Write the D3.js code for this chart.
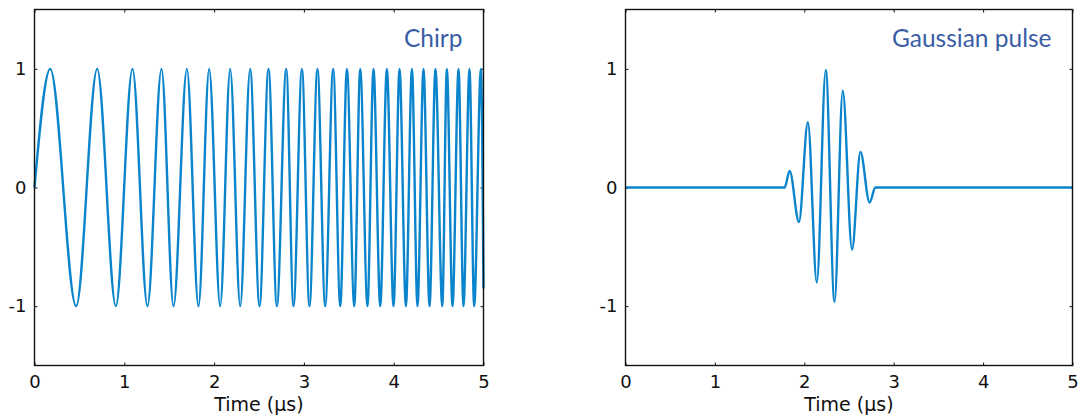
<!DOCTYPE html>
<html>
<head>
<meta charset="utf-8">
<script src="https://cdn.jsdelivr.net/npm/d3@7"></script>
<style>
  body { margin: 0; background: #fff; }
  svg { display: block; }
</style>
</head>
<body>
<div id="chart"></div>
<script>
// chirp: time (us) of start, then alternating peaks / troughs, then end
var chirpTimes = [0, 0.175, 0.464, 0.698, 0.906, 1.091, 1.258, 1.414, 1.548, 1.697, 1.826,
  1.945, 2.068, 2.179, 2.291, 2.401, 2.506, 2.606, 2.699, 2.803, 2.884, 2.978, 3.062,
  3.151, 3.237, 3.326, 3.405, 3.479, 3.561, 3.627, 3.708, 3.775, 3.850, 3.924, 3.998,
  4.065, 4.136, 4.203, 4.265, 4.332, 4.399, 4.465, 4.541, 4.592, 4.655, 4.722, 4.777,
  4.844, 4.896, 4.971, 5.0];
var chirpValues = [0, 1, -1, 1, -1, 1, -1, 1, -1, 1, -1,
  1, -1, 1, -1, 1, -1, 1, -1, 1, -1, 1, -1,
  1, -1, 1, -1, 1, -1, 1, -1, 1, -1, 1, -1,
  1, -1, 1, -1, 1, -1, 1, -1, 1, -1, 1, -1,
  1, -1, 1, -0.85];

// gaussian pulse
var gaussTimes = [0, 1.78, 1.836, 1.94, 2.04, 2.14, 2.24, 2.338, 2.43, 2.534, 2.628, 2.73, 2.795, 5];
var gaussValues = [0, 0, 0.14, -0.29, 0.55, -0.80, 0.99, -0.965, 0.815, -0.523, 0.30, -0.127, 0, 0];

var xTicks = [0, 1, 2, 3, 4, 5];
var yTicks = [-1, 0, 1];
var xLabel = "Time (\u03bcs)";

var W = 1080, H = 417;
var lineColor = "#0a84cc";
var titleColor = "#3a5da6";

var svg = d3.select("#chart").append("svg")
  .attr("width", W)
  .attr("height", H);

// plain hyphen for negatives, like the original
var fmt = function(d) { return String(d); };

function drawPanel(left, right, times, values, title) {
  var top = 9.5, bottom = 365.5;

  var x = d3.scaleLinear().domain([0, 5]).range([left, right]);
  var y = d3.scaleLinear().domain([-1.5, 1.5]).range([bottom, top]);

  var g = svg.append("g");

  // ticks inside, mirrored
  g.append("g")
    .attr("transform", "translate(0," + bottom + ")")
    .call(d3.axisBottom(x).tickValues(xTicks).tickSize(-3).tickPadding(10).tickFormat(fmt))
    .call(styleAxis);
  g.append("g")
    .attr("transform", "translate(0," + top + ")")
    .call(d3.axisTop(x).tickValues(xTicks).tickSize(-3).tickFormat(""))
    .call(styleAxis);
  g.append("g")
    .attr("transform", "translate(" + left + ",0)")
    .call(d3.axisLeft(y).tickValues(yTicks).tickSize(-3).tickPadding(8).tickFormat(fmt))
    .call(styleAxis);
  g.append("g")
    .attr("transform", "translate(" + right + ",0)")
    .call(d3.axisRight(y).tickValues(yTicks).tickSize(-3).tickFormat(""))
    .call(styleAxis);

  g.selectAll(".domain").remove();

  var pts = times.map(function(t, i) { return [t, values[i]]; });
  var line = d3.line()
    .x(function(d) { return x(d[0]); })
    .y(function(d) { return y(d[1]); })
    .curve(d3.curveMonotoneX);

  g.append("path")
    .datum(pts)
    .attr("d", line)
    .attr("fill", "none")
    .attr("stroke", lineColor)
    .attr("stroke-width", 2.4)
    .attr("stroke-linejoin", "round");

  // frame
  g.append("rect")
    .attr("x", left).attr("y", top)
    .attr("width", right - left).attr("height", bottom - top)
    .attr("fill", "none")
    .attr("stroke", "#111")
    .attr("stroke-width", 1.4);

  g.append("text")
    .attr("x", right - 21)
    .attr("y", 46.5)
    .attr("text-anchor", "end")
    .attr("font-family", "Lato, 'Open Sans', sans-serif")
    .attr("font-size", 24.5)
    .attr("fill", titleColor)
    .text(title);

  g.append("text")
    .attr("x", (left + right) / 2)
    .attr("y", 411)
    .attr("text-anchor", "middle")
    .attr("font-family", "'DejaVu Sans', Verdana, sans-serif")
    .attr("font-size", 19)
    .attr("fill", "#111")
    .text(xLabel);
}

function styleAxis(sel) {
  sel.selectAll("line").attr("stroke", "#111").attr("stroke-width", 1);
  sel.selectAll("text")
    .attr("font-family", "'DejaVu Sans', Verdana, sans-serif")
    .attr("font-size", 18)
    .attr("fill", "#111");
}

drawPanel(34.5, 483.5, chirpTimes, chirpValues, "Chirp");
drawPanel(625.5, 1072.5, gaussTimes, gaussValues, "Gaussian pulse");
</script>
</body>
</html>
